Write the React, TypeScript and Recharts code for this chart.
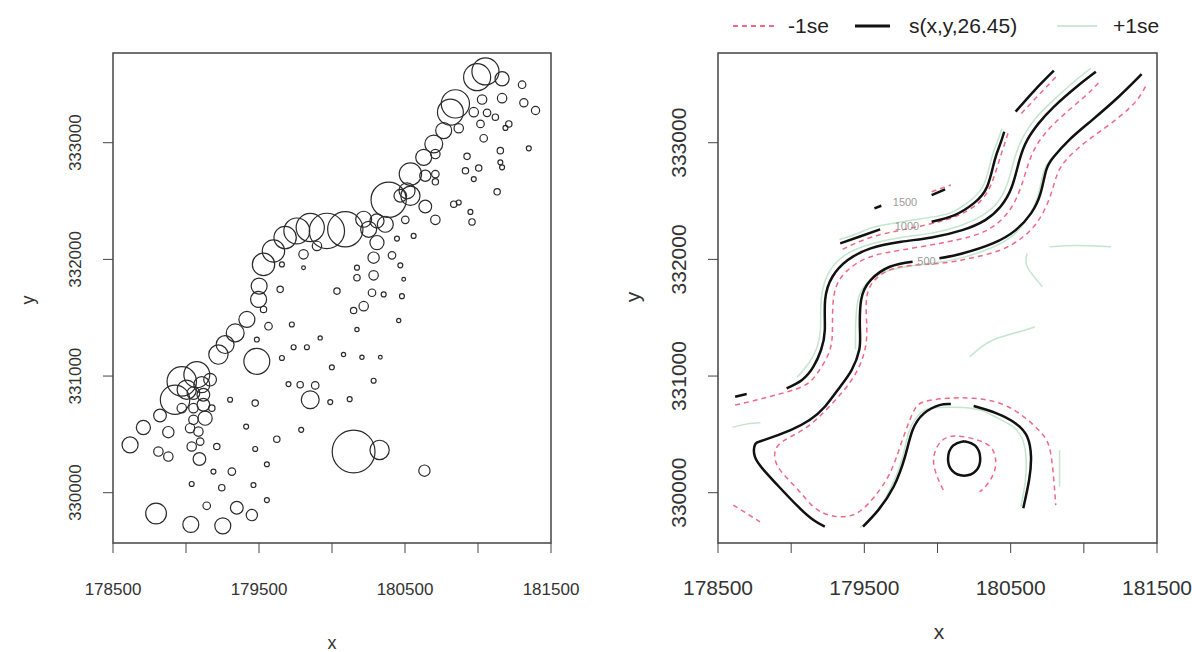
import React from 'react';
import { ScatterChart, Scatter, ComposedChart, Line, XAxis, YAxis, ReferenceArea } from 'recharts';

const FONT = "'Liberation Sans', Arial, Helvetica, sans-serif";

const X_TICKS = [178500, 179000, 179500, 180000, 180500, 181000, 181500];
const X_LABELS = [178500, 179500, 180500, 181500];
const Y_TICKS = [330000, 331000, 332000, 333000];
const X_DOMAIN = [178500, 181500];
const Y_DOMAIN = [329569, 333769];

// left panel: sample locations and zinc values
const sampleX = [181051,180994,181165,181302,181165,181314,181394,181028,180845,180811,180971,181062,181119,181017,180868,180765,181211,181188,181039,181348,181153,180697,180708,180628,180925,181153,181165,181005,180914,180971,180537,180639,180708,180708,181131,180514,180537,180388,180468,180639,180834,180868,180948,180959,180708,180502,180559,180445,180365,180308,180251,180217,180091,179965,179851,179759,179679,179599,179531,179897,179805,180308,180285,180411,180468,180171,180171,180285,180491,179805,179657,179501,179645,180034,180274,180354,180479,179497,179531,179417,179337,179268,179222,179565,179725,179657,179737,179828,179919,180079,180171,180205,180331,180457,180217,180148,179999,180285,179485,179485,178971,179074,178925,179005,179108,179165,179051,179119,178971,179119,179051,179131,179051,179028,179085,179177,178822,178708,178617,178879,178811,178879,179039,179097,179092,179302,179474,179702,179782,179885,179851,179988,180121,179412,179789,179622,179474,179211,179554,179188,179314,179039,179245,179462,179554,179142,179348,179451,178795,179033,179252,180148,180326,180633];
const sampleY = [333611,333562,333548,333497,333382,333342,333276,333370,333333,333262,333262,333256,333219,333161,333124,333104,333161,333127,333038,332952,332932,332989,332903,332875,332883,332832,332789,332783,332760,332688,332731,332717,332731,332665,332579,332588,332545,332511,332545,332453,332473,332488,332407,332321,332339,332339,332201,332178,332301,332330,332258,332344,332258,332244,332273,332244,332187,332072,331957,332115,332043,332144,332015,332035,331949,331929,331843,331863,331829,331929,331957,331771,331743,331728,331714,331700,331685,331657,331571,331485,331370,331270,331184,331427,331442,331155,331247,331247,331327,331184,331399,331161,331161,331476,331599,331562,331075,330960,331313,331126,330954,331012,330797,330883,330926,330969,330854,330840,330725,330754,330725,330639,330625,330553,330524,330725,330662,330559,330410,330519,330353,330310,330396,330438,330289,330797,330768,330931,330926,330920,330797,330777,330802,330567,330539,330459,330375,330396,330244,330181,330181,330075,330043,330066,329937,329888,329871,329808,329822,329728,329716,330353,330367,330189];
const sampleZinc = [1150,1150,600,320,400,350,350,400,1200,1100,400,320,270,320,400,680,270,210,320,210,270,760,400,680,270,210,210,270,270,210,950,480,320,270,270,680,820,1500,540,540,270,210,210,270,400,320,210,210,680,600,680,680,1500,1500,1200,1100,950,950,950,400,400,600,480,320,210,210,270,400,160,160,210,680,270,270,320,210,210,680,270,680,760,760,820,320,210,210,210,210,180,180,180,180,160,180,400,270,210,210,210,1100,1250,1100,1250,820,680,540,540,540,400,540,400,600,400,400,400,270,540,600,680,480,400,400,400,320,540,210,270,210,270,320,760,210,210,210,210,270,210,270,210,210,320,210,270,210,210,320,540,480,880,680,680,1820,820,480];

// right panel: contour lines of the fitted surface (x, y pairs)
const fitQ = [[178969,330894],[179074,330966],[179152,331080],[179204,331223],[179230,331394],[179232,331651],[179282,331851],[179387,331994],[179543,332094],[179752,332151],[179960,332188],[180169,332251],[180326,332337],[180430,332451],[180508,332623],[180560,332851],[180613,333023],[180691,333166],[180795,333308],[180951,333480],[181082,333608]];
const fitQ2 = [[178617,330823],[178696,330846]];
const fitR1 = [[179230,329709],[179152,329766],[179048,329880],[178917,330051],[178813,330194],[178752,330309],[178752,330409],[178813,330451],[178996,330537],[179126,330623],[179230,330737],[179335,330909],[179413,331051],[179465,331223],[179470,331394],[179478,331651],[179543,331823],[179674,331937],[179830,331980]];
const fitR2 = [[180013,332009],[180169,332051],[180378,332137],[180534,332251],[180639,332394],[180704,332566],[180743,332766],[180795,332880],[180899,333023],[181056,333194],[181238,333394],[181395,333588]];
const fitP1 = [[179335,332137],[179465,332194],[179608,332257]];
const fitP2 = [[179960,332323],[180117,332380],[180247,332480],[180339,332623],[180391,332851],[180430,332994],[180456,333094]];
const fitP3 = [[180534,333266],[180665,333451],[180795,333617]];
const fitH1 = [[179569,332437],[179616,332460]];
const fitH2 = [[179960,332551],[180052,332600]];
const fitS1 = [[179491,329709],[179595,329851],[179700,330051],[179778,330309],[179830,330537],[179908,330680],[180013,330751],[180091,330760]];
const fitS2 = [[180247,330743],[180404,330680],[180534,330594],[180613,330480],[180639,330309],[180626,330109],[180586,329866]];
const fitC = [[180182,330442],[180258,330403],[180292,330294],[180262,330187],[180182,330146],[180102,330187],[180072,330294],[180106,330403],[180182,330442]];

// -1se contours
const lowQ = [[178617,330751],[178761,330794],[178891,330837],[179074,330909],[179178,331023],[179256,331194],[179282,331394],[179295,331709],[179387,331908],[179543,332023],[179752,332080],[180013,332137],[180221,332194],[180378,332280],[180508,332451],[180586,332680],[180639,332880],[180717,333051],[180847,333223],[181004,333394],[181108,333523]];
const lowR = [[181421,333480],[181343,333337],[181186,333166],[181030,333023],[180899,332880],[180821,332737],[180769,332537],[180691,332337],[180586,332194],[180430,332080],[180221,332009],[180013,331966],[179752,331937],[179595,331851],[179517,331680],[179517,331394],[179491,331166],[179413,330966],[179282,330766],[179126,330580],[178996,330480],[178904,330394],[178891,330280],[178943,330166],[179048,330023],[179152,329880],[179256,329809],[179361,329794],[179465,329837],[179569,329966],[179674,330166],[179752,330423],[179830,330680],[179908,330780],[180065,330809],[180247,330809],[180482,330737],[180691,330537],[180769,330366],[180795,330109],[180808,329894]];
const lowP1 = [[180573,333251],[180821,333580]];
const lowP2 = [[180482,333080],[180430,332880],[180378,332680],[180300,332508],[180169,332394],[180013,332323],[179752,332251],[179543,332188],[179387,332108],[179335,332074]];
const lowH = [[179960,332580],[180091,332637]];
const lowL = [[178604,329894],[178787,329751]];
const lowC = [[180039,330023],[179974,330251],[180013,330423],[180117,330486],[180274,330451],[180378,330366],[180391,330194],[180326,330051],[180287,330009]];

// +1se contours
const highQ = [[179040,330990],[179120,331110],[179175,331240],[179200,331400],[179205,331650],[179250,331870],[179360,332030],[179540,332130],[179760,332190],[179960,332225],[180160,332290],[180310,332380],[180410,332490],[180480,332660],[180530,332880],[180590,333060],[180670,333210],[180780,333350],[180930,333520],[181050,333640]];
const highR = [[179440,331230],[179440,331400],[179455,331640],[179520,331800],[179660,331900],[179830,331945],[180010,331975],[180170,332015],[180370,332100],[180520,332210],[180620,332360],[180685,332540],[180725,332750],[180775,332860],[180880,333000],[181040,333170],[181220,333370],[181370,333550]];
const highP = [[179330,332170],[179470,332230],[179610,332290],[179950,332360],[180110,332410],[180230,332510],[180320,332650],[180370,332870],[180410,333010],[180440,333120]];
const highS = [[179470,329700],[179580,329830],[179680,330040],[179760,330300],[179810,330540],[179890,330690],[180010,330730],[180250,330720],[180380,330660],[180510,330570],[180580,330460],[180605,330300],[180600,330100],[180570,329880]];
const highL = [[178600,330560],[178700,330590],[178790,330600]];
const highE1 = [[180769,332108],[180950,332120],[181186,332108]];
const highE2 = [[180613,332051],[180613,331937],[180717,331766]];
const highE3 = [[180834,330366],[180834,330051]];
const highE4 = [[180221,331166],[180300,331250],[180400,331320],[180560,331380],[180665,331420]];

const contourLabels = [
  { x: 179778, y: 332494, t: '1500' },
  { x: 179791, y: 332282, t: '1000' },
  { x: 179925, y: 331990, t: '500' },
];

const pts = (arr: number[][]) => arr.map(([x, y]) => ({ x, y }));
const bubbles = sampleX.map((x, i) => ({ x, y: sampleY[i], zinc: sampleZinc[i] }));

const fitSeries = [fitQ, fitQ2, fitR1, fitR2, fitP1, fitP2, fitP3, fitH1, fitH2, fitS1, fitS2, fitC];
const lowSeries = [lowQ, lowR, lowP1, lowP2, lowH, lowL, lowC];
const highSeries = [highQ, highR, highP, highS, highL, highE1, highE2, highE3, highE4];

const Bubble = (props: any) => {
  const { cx, cy, payload } = props;
  if (cx == null || cy == null) return <g />;
  return <circle cx={cx} cy={cy} r={payload.zinc / 85} fill="none" stroke="#2b2b2b" strokeWidth={1.2} />;
};

const LabelShape = (props: any) => {
  const { cx, cy, payload } = props;
  if (cx == null || cy == null) return <g />;
  return (
    <text x={cx} y={cy + 4} textAnchor="middle" fontSize={11} fill="#9a9a9a" fontFamily={FONT}>
      {payload.t}
    </text>
  );
};

const makeXTick = (size: number) => (props: any) => {
  const { x, y, payload } = props;
  if (!X_LABELS.includes(payload.value)) return <g />;
  return (
    <text x={x} y={y + 40} textAnchor="middle" fontSize={size} fill="#333" fontFamily={FONT}>
      {payload.value}
    </text>
  );
};

const makeYTick = (size: number) => (props: any) => {
  const { x, y, payload } = props;
  const bx = x - 20;
  return (
    <text x={bx} y={y} transform={`rotate(-90 ${bx} ${y})`} textAnchor="middle" fontSize={size} fill="#333" fontFamily={FONT}>
      {payload.value}
    </text>
  );
};

const AXIS_COLOR = '#444';

export default function App() {
  return (
    <div style={{ position: 'absolute', left: 0, top: 0, width: 1192, height: 652, background: '#fff', fontFamily: FONT }}>
      <div style={{ position: 'absolute', left: 0, top: 0 }}>
        <ScatterChart width={596} height={652} margin={{ top: 53, right: 45, bottom: 49, left: 53 }}>
          <XAxis type="number" dataKey="x" domain={X_DOMAIN} ticks={X_TICKS} allowDataOverflow height={60}
            axisLine={false} tickLine={{ stroke: AXIS_COLOR }} tickSize={10} tickMargin={2} tick={makeXTick(17)} interval={0} />
          <YAxis type="number" dataKey="y" domain={Y_DOMAIN} ticks={Y_TICKS} allowDataOverflow width={60}
            axisLine={false} tickLine={{ stroke: AXIS_COLOR }} tickSize={10} tickMargin={2} tick={makeYTick(17)} interval={0} />
          <ReferenceArea x1={X_DOMAIN[0]} x2={X_DOMAIN[1]} y1={Y_DOMAIN[0]} y2={Y_DOMAIN[1]} fill="none" stroke={AXIS_COLOR} strokeWidth={1.5} fillOpacity={0} />
          <Scatter data={bubbles} shape={Bubble} isAnimationActive={false} />
        </ScatterChart>
      </div>
      <div style={{ position: 'absolute', left: 596, top: 0 }}>
        <ComposedChart width={596} height={652} margin={{ top: 53, right: 35, bottom: 49, left: 62 }}>
          <XAxis type="number" dataKey="x" domain={X_DOMAIN} ticks={X_TICKS} allowDataOverflow height={60}
            axisLine={false} tickLine={{ stroke: AXIS_COLOR }} tickSize={10} tickMargin={2} tick={makeXTick(21)} interval={0} />
          <YAxis type="number" dataKey="y" domain={Y_DOMAIN} ticks={Y_TICKS} allowDataOverflow width={60}
            axisLine={false} tickLine={{ stroke: AXIS_COLOR }} tickSize={10} tickMargin={2} tick={makeYTick(21)} interval={0} />
          <ReferenceArea x1={X_DOMAIN[0]} x2={X_DOMAIN[1]} y1={Y_DOMAIN[0]} y2={Y_DOMAIN[1]} fill="none" stroke={AXIS_COLOR} strokeWidth={1.5} fillOpacity={0} />
          {highSeries.map((s, i) => (
            <Line key={'h' + i} data={pts(s)} dataKey="y" type="natural" dot={false} activeDot={false}
              stroke="#c4e6cc" strokeWidth={1.5} isAnimationActive={false} />
          ))}
          {lowSeries.map((s, i) => (
            <Line key={'l' + i} data={pts(s)} dataKey="y" type="natural" dot={false} activeDot={false}
              stroke="#f06a86" strokeWidth={1.5} strokeDasharray="5 4" isAnimationActive={false} />
          ))}
          {fitSeries.map((s, i) => (
            <Line key={'f' + i} data={pts(s)} dataKey="y" type="natural" dot={false} activeDot={false}
              stroke="#111" strokeWidth={2.5} isAnimationActive={false} />
          ))}
          <Scatter data={contourLabels} shape={LabelShape} isAnimationActive={false} />
        </ComposedChart>
      </div>
      <svg width={1192} height={652} style={{ position: 'absolute', left: 0, top: 0, pointerEvents: 'none' }}>
        <text x={332} y={649} textAnchor="middle" fontSize={18} fill="#333" fontFamily={FONT}>x</text>
        <text x={34} y={300} transform="rotate(-90 34 300)" textAnchor="middle" fontSize={18} fill="#333" fontFamily={FONT}>y</text>
        <text x={939} y={639} textAnchor="middle" fontSize={21} fill="#333" fontFamily={FONT}>x</text>
        <text x={640} y={297} transform="rotate(-90 640 297)" textAnchor="middle" fontSize={21} fill="#333" fontFamily={FONT}>y</text>
        <line x1={733} y1={26} x2={777} y2={26} stroke="#f06a86" strokeWidth={2} strokeDasharray="5 4" />
        <text x={788} y={33} fontSize={21} fill="#222" fontFamily={FONT}>-1se</text>
        <line x1={855} y1={26} x2={890} y2={26} stroke="#111" strokeWidth={3} />
        <text x={909} y={33} fontSize={21} fill="#222" fontFamily={FONT}>s(x,y,26.45)</text>
        <line x1={1057} y1={26} x2={1097} y2={26} stroke="#cfe8d4" strokeWidth={2} />
        <text x={1113} y={33} fontSize={21} fill="#222" fontFamily={FONT}>+1se</text>
      </svg>
    </div>
  );
}
